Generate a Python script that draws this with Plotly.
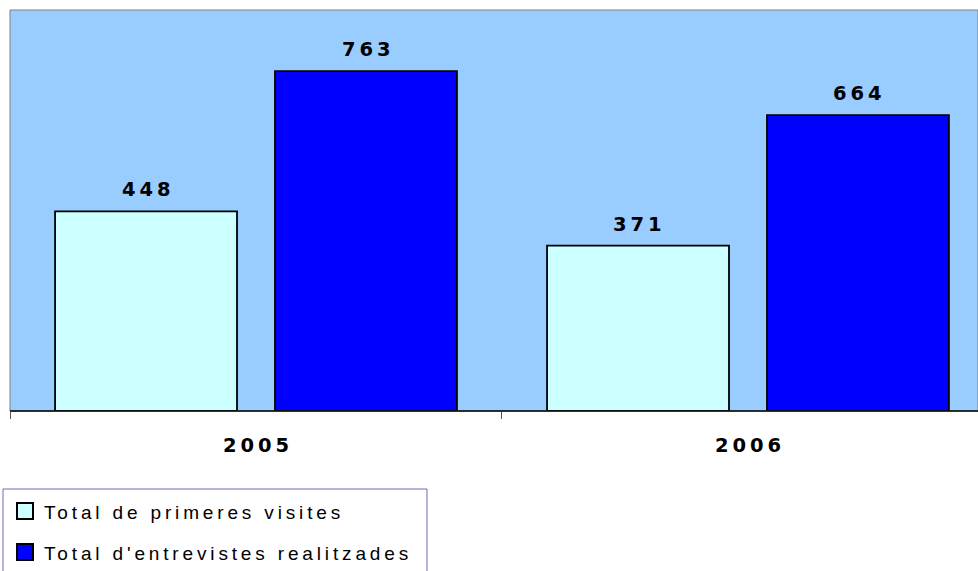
import plotly.graph_objects as go

years = ["2005", "2006"]
primeres = [448, 371]
entrevistes = [763, 664]
series_names = ["Total de primeres visites", "Total d'entrevistes realitzades"]
series_colors = ["#CCFFFF", "#0000FF"]

W, H = 978, 571
L, T, B = 10, 10, 160
PW, PH = W - L, H - T - B


def px_x(px):
    return (px - L) / PW


def px_y(py):
    return (H - B - py) / PH


FONT = "Liberation Sans"
BOLDFONT = "DejaVu Sans"

fig = go.Figure()
for name, vals, col in zip(series_names, [primeres, entrevistes], series_colors):
    fig.add_trace(go.Bar(
        x=years, y=vals, name=name,
        marker=dict(color=col, line=dict(color="#000000", width=1.8)),
        showlegend=False,
    ))

annotations = []
# value labels above bars (category index positions on the x axis)
for vals, shift in zip([primeres, entrevistes], [-110, 110]):
    for i, v in enumerate(vals):
        annotations.append(dict(
            x=i, y=v, xref="x", yref="y", text=str(v), showarrow=False,
            xanchor="center", yanchor="bottom", xshift=shift, yshift=8,
            font=dict(family=BOLDFONT, size=19.5, color="#000000", weight="bold"),
        ))

shapes = [
    dict(type="rect", xref="paper", yref="paper", x0=0, x1=1, y0=0, y1=1,
         line=dict(color="#808080", width=1), layer="above"),
    dict(type="line", xref="paper", yref="paper", x0=0, x1=1, y0=0, y1=0,
         line=dict(color="#000000", width=1.5), layer="above"),
    dict(type="rect", xref="paper", yref="paper",
         x0=px_x(3), x1=px_x(427), y0=px_y(489), y1=px_y(590),
         line=dict(color="#6A6AB8", width=1), fillcolor="#FFFFFF"),
]
row_centers = [511, 552]
for name, col, rc in zip(series_names, series_colors, row_centers):
    shapes.append(dict(type="rect", xref="paper", yref="paper",
                       x0=px_x(17), x1=px_x(33), y0=px_y(rc - 8), y1=px_y(rc + 8),
                       line=dict(color="#000000", width=2), fillcolor=col))
    annotations.append(dict(
        x=px_x(42), y=px_y(rc + 1), xref="paper", yref="paper", text=name,
        showarrow=False, xanchor="left", yanchor="middle", align="left",
        font=dict(family=FONT, size=19, color="#000000"),
    ))

fig.update_layout(
    width=W, height=H,
    margin=dict(l=L, r=0, t=T, b=B),
    paper_bgcolor="#FFFFFF",
    plot_bgcolor="#99CCFF",
    barmode="group", bargap=0.106, bargroupgap=0.1727,
    showlegend=False,
    xaxis=dict(
        type="category", range=[-0.5, 1.4675],
        showline=False,
        ticks="outside", tickson="boundaries", ticklen=7, tickcolor="#555555",
        tickwidth=1,
        tickfont=dict(family=BOLDFONT, size=19.5, color="#000000", weight="bold"),
        ticklabelstandoff=20,
        showgrid=False, zeroline=False,
    ),
    yaxis=dict(range=[0, 900], visible=False, showgrid=False, zeroline=False),
    shapes=shapes,
    annotations=annotations,
)

post = """
document.body.style.margin = '0';
document.body.style.overflow = 'hidden';
var gd = document.getElementById('{plot_id}');
gd.querySelectorAll('.annotation-text').forEach(function (t) {
  var fw = window.getComputedStyle(t).fontWeight;
  if (fw === '700' || fw === 'bold') {
    t.style.letterSpacing = '3.9px';
    t.setAttribute('dx', '1.95');
  } else {
    t.style.letterSpacing = '3.85px';
  }
});
gd.querySelectorAll('.xtick text').forEach(function (t) {
  t.style.letterSpacing = '3.9px';
  t.setAttribute('dx', '1.95');
});
"""

fig.write_html("out.html", post_script=post, config={"displayModeBar": False})
